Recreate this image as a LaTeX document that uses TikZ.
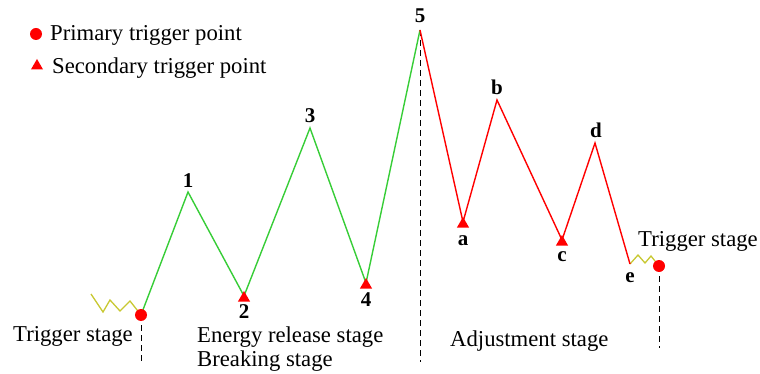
\documentclass[tikz,border=0pt]{standalone}
\usepackage{fontspec}
\setmainfont{Liberation Serif}
\usetikzlibrary{shapes.geometric}
\definecolor{zigy}{RGB}{200,200,50}
\definecolor{lgreen}{RGB}{55,205,55}
\begin{document}
\begin{tikzpicture}[x=1pt,y=-1pt,
  txt/.style={font=\fontsize{22.7}{25}\selectfont, inner sep=0pt, anchor=base west},
  lbl/.style={font=\fontsize{21}{23}\selectfont\bfseries, inner sep=0pt},
  gline/.style={draw=lgreen, line width=1.4pt},
  rline/.style={draw=red, line width=1.4pt},
  yline/.style={draw=zigy, line width=1.3pt},
  dashln/.style={draw=black, dash pattern=on 6pt off 4pt, line width=0.9pt},
  dotm/.style={circle, fill=red, inner sep=0pt, minimum size=12pt},
  trim/.style={regular polygon, regular polygon sides=3, fill=red, inner sep=0pt, minimum size=14pt},
]
\path[use as bounding box] (0,0) rectangle (760,374);
% points
\coordinate (z0) at (91,294);
\coordinate (z1) at (103,312);
\coordinate (z2) at (110,300);
\coordinate (z3) at (120,311);
\coordinate (z4) at (130,301);
\coordinate (p0) at (141,315);
\coordinate (p1) at (188,192);
\coordinate (p2) at (244,296);
\coordinate (p3) at (310,128);
\coordinate (p4) at (366,283);
\coordinate (p5) at (420,30);
\coordinate (pa) at (463,222);
\coordinate (pb) at (497,100);
\coordinate (pc) at (562,240);
\coordinate (pd) at (595,143);
\coordinate (pe) at (630,264);
\coordinate (y1) at (638,255);
\coordinate (y2) at (645,263);
\coordinate (y3) at (651,256);
\coordinate (pf) at (659,266);
% dashed verticals
\coordinate (d1) at (141,362);
\coordinate (d5) at (420,362);
\coordinate (df) at (659,348);
\draw[dashln] (p0) -- (d1);
\draw[dashln] (p5) -- (d5);
\draw[dashln] (pf) -- (df);
% zigzags
\draw[yline] (z0) -- (z1) -- (z2) -- (z3) -- (z4) -- (p0);
\draw[yline] (pe) -- (y1) -- (y2) -- (y3) -- (pf);
% main lines
\draw[gline] (p0) -- (p1) -- (p2) -- (p3) -- (p4) -- (p5);
\draw[rline] (p5) -- (pa) -- (pb) -- (pc) -- (pd) -- (pe);
% markers
\node[dotm] (m0) at (p0) {};
\node[dotm] (mf) at (pf) {};
\node[trim, yshift=-2pt] (m2) at (p2) {};
\node[trim, yshift=-2pt] (m4) at (p4) {};
\node[trim, yshift=-2pt] (ma) at (pa) {};
\node[trim, yshift=-2pt] (mc) at (pc) {};
% point labels
\node[lbl] (l1) at (188,181) {1};
\node[lbl] (l2) at (244,312) {2};
\node[lbl] (l3) at (310,116) {3};
\node[lbl] (l4) at (366,300) {4};
\node[lbl] (l5) at (420,16) {5};
\node[lbl] (la) at (463,241) {a};
\node[lbl] (lb) at (497,87) {b};
\node[lbl] (lc) at (562,257) {c};
\node[lbl] (ld) at (596,130) {d};
\node[lbl] (le) at (630,278) {e};
% legend
\node[dotm] (leg1) at (36,34) {};
\node[txt] (legt1) at (50,41) {Primary trigger point};
\node[trim] (leg2) at (37,66) {};
\node[txt] (legt2) at (52,74) {Secondary trigger point};
% stage labels
\node[txt] (s1) at (13,341) {Trigger stage};
\node[txt] (s2) at (197,342) {Energy release stage};
\node[txt] (s3) at (197,366) {Breaking stage};
\node[txt] (s4) at (450,346) {Adjustment stage};
\node[txt] (s5) at (638,246) {Trigger stage};
\end{tikzpicture}
\end{document}
